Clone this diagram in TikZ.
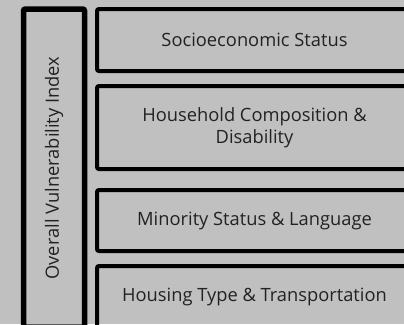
\documentclass[tikz,border=0pt]{standalone}
\usepackage{fontspec}
\setmainfont{Open Sans}
\usepackage{tikz}
\usetikzlibrary{positioning}
\definecolor{panelgray}{HTML}{C0C0C0}
\definecolor{labeltext}{HTML}{222222}

\begin{document}
\begin{tikzpicture}[
  x=1pt, y=-1pt,
  themebox/.style={draw=black, line width=4pt, rounded corners=2pt, align=center, text=labeltext,
    minimum width=315pt, inner sep=0pt, font=\fontsize{18.3}{22.5}\selectfont},
  indexbox/.style={draw=black, line width=5.5pt, rounded corners=2pt, text=labeltext,
    minimum width=61pt, minimum height=318pt, inner sep=0pt, font=\fontsize{18.3}{22.5}\selectfont}
]
\fill[panelgray] (0,0) rectangle (404,324);
\useasboundingbox (0,0) rectangle (404,324);
\clip (0,0) rectangle (404,324);

\node[indexbox] (ovi) at (54,168) {\rotatebox{90}{Overall Vulnerability Index}};

\node[themebox, minimum height=62pt] (ses) at (254.5,40) {Socioeconomic Status};
\node[themebox, minimum height=83pt] (hcd) at (254.5,127.5) {Household Composition \&\\Disability};
\node[themebox, minimum height=61pt] (msl) at (254.5,220.5) {Minority Status \& Language};
\node[themebox, minimum height=62pt] (htt) at (254.5,297) {Housing Type \& Transportation};
\end{tikzpicture}
\end{document}
